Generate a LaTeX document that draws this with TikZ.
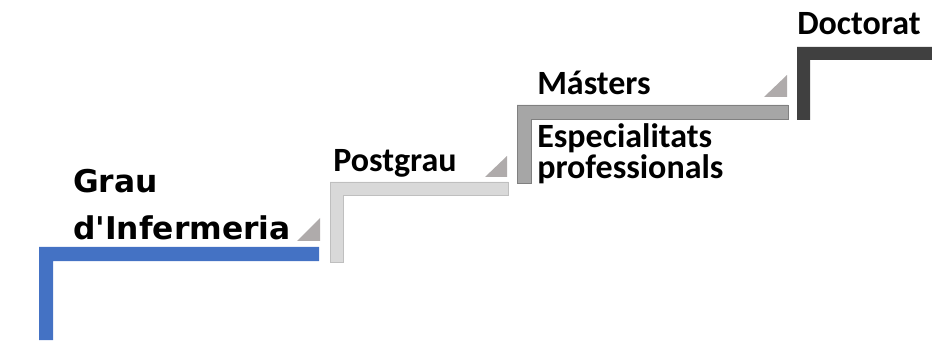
\documentclass[tikz,border=0pt]{standalone}
\usepackage{fontspec}
\setmainfont{Carlito}
\newfontfamily\graufont{DejaVu Sans}
\definecolor{stepblue}{HTML}{4472C4}
\definecolor{steplight}{HTML}{D9D9D9}
\definecolor{steplightline}{HTML}{BFBFBF}
\definecolor{stepmid}{HTML}{A6A6A6}
\definecolor{stepmidline}{HTML}{808080}
\definecolor{stepdark}{HTML}{404040}
\definecolor{tricol}{HTML}{AFABAB}
\tikzset{
  steplabel/.style={inner sep=0pt, anchor=base west, align=left,
    font=\bfseries\fontsize{25.5}{20.5}\selectfont},
  graulabel/.style={inner sep=0pt, anchor=base west, align=left,
    font=\graufont\bfseries\fontsize{23.5}{35}\selectfont},
  corner/.style={fill=tricol, draw=none}
}
\begin{document}
\begin{tikzpicture}[x=0.75pt, y=-0.75pt]
  \useasboundingbox (0,0) rectangle (932,342);
  % steps
  \fill[stepblue] (39,247) -- (319,247) -- (319,261) -- (53,261) -- (53,340) -- (39,340) -- cycle;
  \draw[fill=steplight, draw=steplightline] (330,182) -- (508,182) -- (508,195.5) -- (343.5,195.5) -- (343.5,262) -- (330,262) -- cycle;
  \draw[fill=stepmid, draw=stepmidline] (517,105) -- (788,105) -- (788,119) -- (531,119) -- (531,183) -- (517,183) -- cycle;
  \fill[stepdark] (797,47) -- (940,47) -- (940,60) -- (810,60) -- (810,120) -- (797,120) -- cycle;
  % little triangles
  \fill[corner] (297,241) -- (320,241) -- (320,218) -- cycle;
  \fill[corner] (485,177) -- (507,177) -- (507,156) -- cycle;
  \fill[corner] (764,97) -- (787,97) -- (787,75) -- cycle;
  % labels (multi-line ones sit on their last baseline)
  \node[graulabel] (grau) at (73,239) {Grau\\d'Infermeria};
  \node[steplabel] (postgrau) at (333,172) {Postgrau};
  \node[steplabel] (masters) at (537,95) {Másters};
  \node[steplabel] (especialitats) at (537,178.5) {Especialitats\\professionals};
  \node[steplabel] (doctorat) at (797,35) {Doctorat};
\end{tikzpicture}
\end{document}
